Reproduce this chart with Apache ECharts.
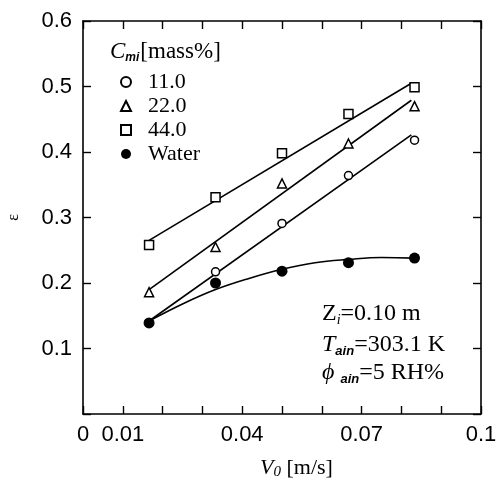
<!DOCTYPE html>
<html><head><meta charset="utf-8">
<script src="https://cdn.jsdelivr.net/npm/echarts@6/dist/echarts.min.js"></script>
<style>html,body{margin:0;padding:0;background:#fff}#c{width:498px;height:484px}</style>
</head><body><div id="c"></div>
<script>
// ---- data ----
const velocity   = [0.0166, 0.0333, 0.05, 0.0667, 0.0833];
const eps11      = [0.139, 0.217, 0.291, 0.364, 0.418];
const eps22      = [0.186, 0.255, 0.352, 0.413, 0.470];
const eps44      = [0.258, 0.331, 0.398, 0.458, 0.499];
const epsWater   = [0.139, 0.200, 0.218, 0.231, 0.238];
// fitted lines (end points)
const fitX       = [0.0166, 0.0825];
const fit11      = [0.142, 0.426];
const fit22      = [0.190, 0.479];
const fit44      = [0.265, 0.505];
// water fitted curve
const waterFitX  = [0.0166, 0.025, 0.0333, 0.0417, 0.05, 0.0583, 0.0667, 0.075, 0.0833];
const waterFitY  = [0.142, 0.168, 0.190, 0.207, 0.221, 0.231, 0.236, 0.239, 0.238];
const seriesNames = ['11.0', '22.0', '44.0', 'Water'];
const xTickLabels = ['0', '0.01', '0.04', '0.07', '0.1'];
const yTickLabels = ['0.1', '0.2', '0.3', '0.4', '0.5', '0.6'];

const SANS = '"Liberation Sans", Arial, sans-serif';
const SERIF = '"Liberation Serif", "Times New Roman", serif';
const pairs = (xs, ys) => xs.map((x, i) => [x, ys[i]]);

const chart = echarts.init(document.getElementById('c'));
const axisLine = () => ({show: true, onZero: false, lineStyle: {color: '#000', width: 1.6}});
const tick = () => ({show: true, inside: true, length: 8, lineStyle: {color: '#000', width: 1.4}});

function scatter(name, ys, symbol, size, filled) {
  return {
    name, type: 'scatter', data: pairs(velocity, ys), symbol, symbolSize: size, z: 5,
    itemStyle: {color: filled ? '#000' : '#fff', borderColor: '#000', borderWidth: filled ? 0 : 1.5, opacity: 1}
  };
}
function fit(xs, ys, smooth) {
  return {
    type: 'line', data: pairs(xs, ys), showSymbol: false, symbol: 'none', smooth: smooth ? 0.4 : false,
    xAxisIndex: 1, yAxisIndex: 1,
    lineStyle: {color: '#000', width: 1.6}, z: 2, silent: true, legendHoverLink: false
  };
}
const labelFmt = list => v => { const t = list.find(s => Math.abs(parseFloat(s) - v) < 1e-9); return t || ''; };

chart.setOption({
  animation: false,
  backgroundColor: '#fff',
  grid: {left: 83, right: 17, top: 21, bottom: 70, containLabel: false, outerBoundsMode: 'none'},
  xAxis: [{
    type: 'value', min: 0, max: 0.1, interval: 0.01, position: 'bottom',
    axisLine: axisLine(), axisTick: tick(), splitLine: {show: false},
    axisLabel: {margin: 10, color: '#000', fontFamily: SANS, fontSize: 22, formatter: labelFmt(xTickLabels)}
  }, {
    type: 'value', min: 0, max: 0.1, interval: 0.01, position: 'top', show: true,
    axisLine: axisLine(), axisTick: tick(), splitLine: {show: false}, axisLabel: {show: false}
  }],
  yAxis: [{
    type: 'value', min: 0, max: 0.6, interval: 0.1, position: 'left',
    axisLine: axisLine(), axisTick: tick(), splitLine: {show: false},
    name: 'ε', nameLocation: 'middle', nameRotate: 90, nameGap: 61,
    nameTextStyle: {fontFamily: SERIF, fontSize: 16, color: '#000'},
    axisLabel: {margin: 11, color: '#000', fontFamily: SANS, fontSize: 22, formatter: labelFmt(yTickLabels)}
  }, {
    type: 'value', min: 0, max: 0.6, interval: 0.1, position: 'right', show: true,
    axisLine: axisLine(), axisTick: tick(), splitLine: {show: false}, axisLabel: {show: false}
  }],
  legend: {
    data: seriesNames, orient: 'vertical', left: 120, top: 71, padding: 0,
    itemWidth: 10, itemHeight: 10, itemGap: 2, selectedMode: false,
    textStyle: {fontFamily: SERIF, fontSize: 22, color: '#000', lineHeight: 22, padding: [0, 0, 0, 12]}
  },
  graphic: [
    {type: 'text', left: 110, top: 40, style: {
      text: '{c|C}{s|mi}{n|[mass%]}',
      rich: {
        c: {fontFamily: SERIF, fontStyle: 'italic', fontSize: 23, fill: '#000'},
        s: {fontFamily: SANS, fontStyle: 'italic', fontWeight: 'bold', fontSize: 12, fill: '#000', padding: [12, 1, 0, 0]},
        n: {fontFamily: SERIF, fontSize: 23, fill: '#000'}
      }}},
    {type: 'text', left: 322, top: 302, style: {
      text: '{c|Z}{s|i}{n|=0.10 m}',
      rich: {
        c: {fontFamily: SERIF, fontSize: 24, fill: '#000'},
        s: {fontFamily: SERIF, fontStyle: 'italic', fontSize: 14, fill: '#000', padding: [12, 0, 0, 0]},
        n: {fontFamily: SERIF, fontSize: 24, fill: '#000'}
      }}},
    {type: 'text', left: 322, top: 333, style: {
      text: '{c|T}{s|ain}{n|=303.1 K}',
      rich: {
        c: {fontFamily: SERIF, fontStyle: 'italic', fontSize: 24, fill: '#000'},
        s: {fontFamily: SANS, fontStyle: 'italic', fontWeight: 'bold', fontSize: 13, fill: '#000', padding: [12, 0, 0, 0]},
        n: {fontFamily: SERIF, fontSize: 24, fill: '#000'}
      }}},
    {type: 'text', left: 322, top: 361, style: {
      text: '{c|ϕ }{s|ain}{n|=5 RH%}',
      rich: {
        c: {fontFamily: SERIF, fontStyle: 'italic', fontSize: 24, fill: '#000'},
        s: {fontFamily: SANS, fontStyle: 'italic', fontWeight: 'bold', fontSize: 13, fill: '#000', padding: [12, 0, 0, 0]},
        n: {fontFamily: SERIF, fontSize: 24, fill: '#000'}
      }}},
    {type: 'text', left: 260, top: 457, style: {
      text: '{c|V}{s|0}{n| [m/s]}',
      rich: {
        c: {fontFamily: SERIF, fontStyle: 'italic', fontSize: 22, fill: '#000'},
        s: {fontFamily: SERIF, fontStyle: 'italic', fontSize: 15, fill: '#000', padding: [8, 0, 0, 0]},
        n: {fontFamily: SERIF, fontSize: 22, fill: '#000'}
      }}}
  ],
  series: [
    fit(fitX, fit11), fit(fitX, fit22), fit(fitX, fit44), fit(waterFitX, waterFitY, true),
    scatter(seriesNames[0], eps11, 'circle', 8, false),
    scatter(seriesNames[1], eps22, 'triangle', 9, false),
    scatter(seriesNames[2], eps44, 'rect', 9, false),
    scatter(seriesNames[3], epsWater, 'circle', 11, true)
  ]
});
</script></body></html>
